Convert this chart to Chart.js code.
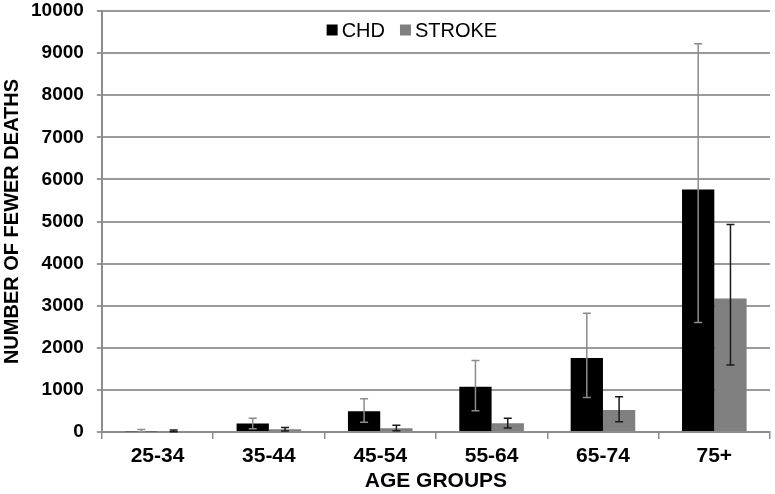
<!DOCTYPE html>
<html>
<head>
  <title>Fewer deaths by age group</title>
  <style>
    body {
      margin: 0;
      padding: 0;
      background-color: #fff;
    }
    .wrap {
      width: 775px;
      height: 494px;
    }
  </style>
</head>
<body>
  <div class="wrap">
    <canvas id="deathsChart"></canvas>
  </div>

<script src="https://cdn.jsdelivr.net/npm/chart.js"></script>
<script>
  // data
  const ageGroups = ['25-34', '35-44', '45-54', '55-64', '65-74', '75+'];
  const chd = [20, 200, 490, 1075, 1760, 5760];
  const chdLow = [5, 80, 230, 505, 820, 2600];
  const chdHigh = [60, 325, 790, 1700, 2820, 9220];
  const stroke = [15, 65, 90, 210, 525, 3170];
  const strokeLow = [5, 25, 30, 95, 245, 1590];
  const strokeHigh = [45, 105, 160, 325, 840, 4930];
  const yTicks = [0, 1000, 2000, 3000, 4000, 5000, 6000, 7000, 8000, 9000, 10000];

  const fontName = '"Liberation Sans", Arial, sans-serif';

  // error bars drawn through the y scale
  const errorBars = {
    id: 'errorBars',
    afterDatasetsDraw(chart) {
      const ctx = chart.ctx;
      const y = chart.scales.y;
      chart.data.datasets.forEach((ds, di) => {
        const meta = chart.getDatasetMeta(di);
        ctx.save();
        ctx.strokeStyle = ds.errorColor;
        ctx.lineWidth = 1.5;
        meta.data.forEach((bar, i) => {
          const yLo = y.getPixelForValue(ds.low[i]);
          const yHi = y.getPixelForValue(ds.high[i]);
          ctx.beginPath();
          ctx.moveTo(bar.x, yLo);
          ctx.lineTo(bar.x, yHi);
          ctx.moveTo(bar.x - 4, yLo);
          ctx.lineTo(bar.x + 4, yLo);
          ctx.moveTo(bar.x - 4, yHi);
          ctx.lineTo(bar.x + 4, yHi);
          ctx.stroke();
        });
        ctx.restore();
      });
    }
  };

  // legend sitting inside the plot, near the top
  const innerLegend = {
    id: 'innerLegend',
    afterDraw(chart) {
      const ctx = chart.ctx;
      const area = chart.chartArea;
      ctx.save();
      ctx.font = '20px ' + fontName;
      ctx.textBaseline = 'middle';
      const box = 11, gap = 4, between = 15;
      const items = chart.data.datasets.map(ds => ({
        text: ds.label, color: ds.backgroundColor,
        w: box + gap + ctx.measureText(ds.label).width
      }));
      const total = items.reduce((a, b) => a + b.w, 0) + between * (items.length - 1);
      let x = (area.left + area.right) / 2 - total / 2 - 24;
      const yMid = area.top + 19;
      items.forEach(it => {
        ctx.fillStyle = it.color;
        ctx.fillRect(x, yMid - box / 2, box, box);
        ctx.fillStyle = '#000';
        ctx.fillText(it.text, x + box + gap, yMid + 1);
        x += it.w + between;
      });
      ctx.restore();
    }
  };

  const ctx = document.getElementById('deathsChart').getContext('2d');
  new Chart(ctx, {
    type: 'bar',
    data: {
      labels: ageGroups,
      datasets: [
        {
          label: 'CHD',
          data: chd,
          low: chdLow,
          high: chdHigh,
          backgroundColor: '#000000',
          errorColor: '#8c8c8c'
        },
        {
          label: 'STROKE',
          data: stroke,
          low: strokeLow,
          high: strokeHigh,
          backgroundColor: '#808080',
          errorColor: '#1a1a1a'
        }
      ]
    },
    options: {
      responsive: true,
      maintainAspectRatio: false,
      animation: false,
      layout: { padding: { top: 0, right: 5, left: 0, bottom: 2 } },
      datasets: {
        bar: { categoryPercentage: 0.58, barPercentage: 1.0 }
      },
      plugins: {
        legend: { display: false },
        tooltip: { enabled: false }
      },
      scales: {
        x: {
          grid: {
            offset: true,
            drawOnChartArea: false,
            color: '#8c8c8c',
            lineWidth: 1.5,
            tickLength: 7
          },
          border: { color: '#8c8c8c', width: 2 },
          ticks: {
            color: '#000',
            padding: 7,
            font: { family: fontName, size: 21, weight: 'bold', lineHeight: 1 }
          },
          title: {
            display: true,
            text: 'AGE GROUPS',
            color: '#000',
            padding: { top: -3, bottom: 0 },
            font: { family: fontName, size: 21, weight: 'bold', lineHeight: 1 }
          }
        },
        y: {
          min: 0,
          max: 10000,
          afterBuildTicks(axis) {
            axis.ticks = yTicks.map(v => ({ value: v }));
          },
          afterFit(axis) {
            axis.paddingTop = 11;
            axis.width -= 6;
          },
          grid: {
            color: '#9a9a9a',
            lineWidth: 2,
            tickLength: 5
          },
          border: { color: '#8c8c8c', width: 2 },
          ticks: {
            color: '#000',
            padding: 13,
            callback: v => String(v),
            font: { family: fontName, size: 19, weight: 'bold' }
          },
          title: {
            display: true,
            text: 'NUMBER OF FEWER DEATHS',
            color: '#000',
            padding: { top: 0, bottom: 0 },
            font: { family: fontName, size: 20, weight: 'bold' }
          }
        }
      }
    },
    plugins: [errorBars, innerLegend]
  });
</script>
</body>
</html>
